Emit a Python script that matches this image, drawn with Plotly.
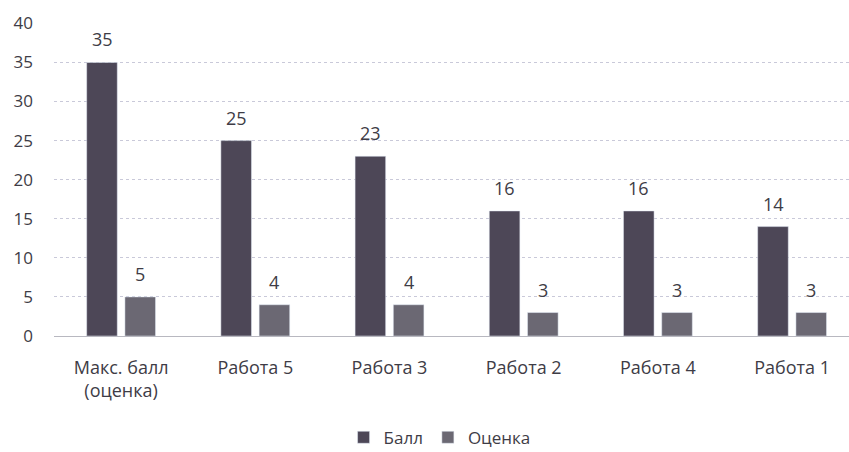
import plotly.graph_objects as go

categories = ["Макс. балл<br>(оценка)", "Работа 5", "Работа 3", "Работа 2", "Работа 4", "Работа 1"]
ball = [35, 25, 23, 16, 16, 14]
ocenka = [5, 4, 4, 3, 3, 3]
y_ticks = [0, 5, 10, 15, 20, 25, 30, 35, 40]

font = "Open Sans"
txt = "#3e3c46"

fig = go.Figure()
fig.add_trace(go.Bar(name="Балл", x=categories, y=ball, marker_color="#4d4757"))
fig.add_trace(go.Bar(name="Оценка", x=categories, y=ocenka, marker_color="#6b6873"))

# data labels, placed above each bar of the group
for series, dx in ((ball, -19), (ocenka, 19)):
    for c, v in zip(categories, series):
        fig.add_annotation(x=c, y=v, text=str(v), showarrow=False, xshift=dx,
                           yshift=23, yanchor="middle",
                           font=dict(size=18, color=txt, family=font))

fig.update_layout(
    width=849, height=452,
    margin=dict(l=54, r=0, t=23, b=116, autoexpand=False),
    paper_bgcolor="white", plot_bgcolor="white",
    barmode="group", bargap=0.43, bargroupgap=0.2,
    font=dict(family=font, size=17, color=txt),
    showlegend=True,
    legend=dict(orientation="h", x=0.485, xanchor="center", y=-0.325, yanchor="middle",
                font=dict(size=17, color=txt), itemwidth=30, traceorder="normal"),
    xaxis=dict(range=[-0.5, 5.424], showline=True, linecolor="#b8b8c0", linewidth=1, ticks="",
               tickfont=dict(size=18, color=txt), ticklabelstandoff=15),
    yaxis=dict(range=[0, 40.05], tickvals=y_ticks, showgrid=True, gridcolor="#c9c9d9",
               griddash="dot", gridwidth=1, zeroline=False, showline=False,
               tickfont=dict(size=17, color=txt), ticklabelstandoff=20),
)
fig.write_html("out.html", post_script="document.body.style.margin='0';",
               config={"displayModeBar": False})
